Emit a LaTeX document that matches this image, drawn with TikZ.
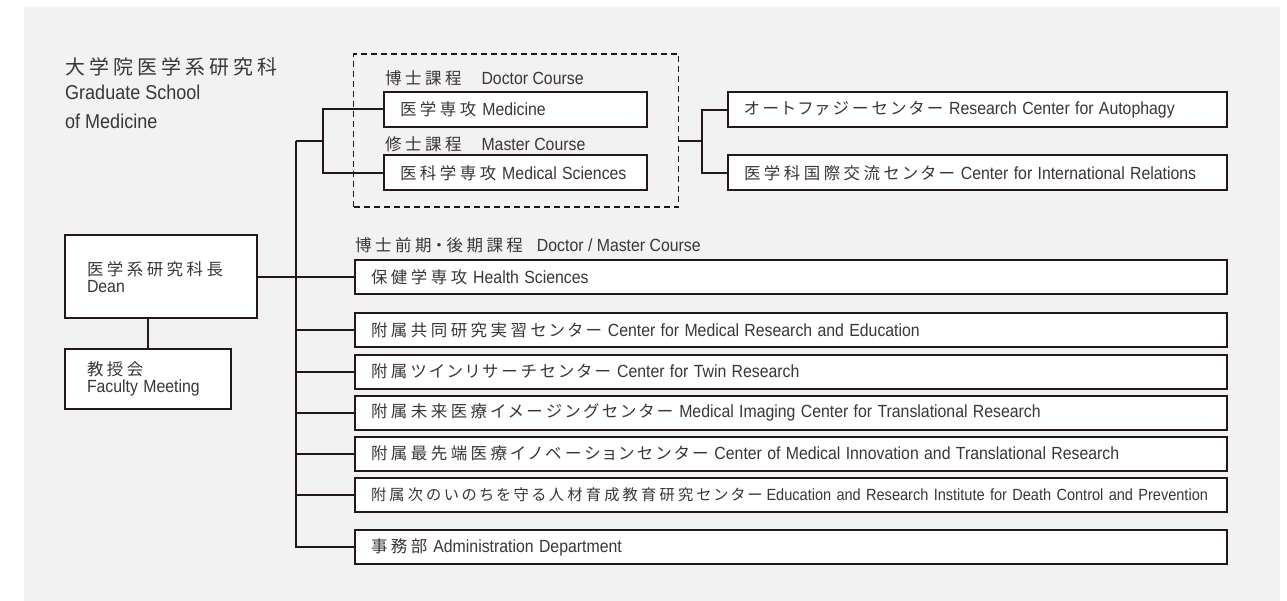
\documentclass[tikz,border=0pt]{standalone}
\usepackage{fontspec}
\setmainfont{Liberation Sans}
\newfontfamily\jpfont[LetterSpace=21,Scale=1.03,RawFeature=+palt]{Noto Sans CJK JP}
\newfontfamily\enfont[FakeStretch=0.9,Scale=1.1]{Liberation Sans}
\usepackage{tikz}
\usetikzlibrary{positioning}
\definecolor{bg}{HTML}{F2F2F2}
\definecolor{ink}{HTML}{231815}
\definecolor{txt}{HTML}{3A3635}
\newcommand\ja[1]{{\jpfont #1}}
\newcommand\en[1]{{\enfont #1}}
\newcommand\both[2]{\ja{#1}\hspace{6pt}\en{#2}}
\tikzset{
    conn/.style={draw=ink, line width=2pt},
    unit/.style={draw=ink, fill=white, line width=2pt, text=txt, minimum height=35pt, inner xsep=16pt, inner ysep=0pt, align=left, font=\fontsize{16}{20}\selectfont},
    wideunit/.style={unit, text width=840pt, minimum height=34pt, node distance=41pt, on grid},
    courseunit/.style={unit, text width=231pt, node distance=63.5pt, on grid},
    rightunit/.style={unit, text width=467pt, node distance=63pt, on grid},
    heading/.style={text=txt, inner sep=0pt, anchor=west, font=\fontsize{16}{20}\selectfont},
    groupbox/.style={draw=ink, line width=1.8pt, dash pattern=on 6pt off 4pt},
}

\begin{document}
\begin{tikzpicture}[x=1pt,y=-1pt]
\useasboundingbox (0,0) rectangle (1287,601);
\fill[bg] (24,7) rectangle (1280,601);

\node (title) [anchor=north west, inner sep=0pt, align=left, text=txt, font=\enfont\fontsize{18.2}{29}\selectfont] at (65,58)
    {{\jpfont\fontsize{19.3}{29}\selectfont 大学院医学系研究科}\\[-4pt]Graduate School\\of Medicine};

\node (doctoral) [groupbox, minimum width=325pt, minimum height=153pt] at (516,130.5) {};
\node (doclabel) [heading] at (385,78) {\ja{博士課程}\hspace{20pt}\en{Doctor Course}};
\node (medicine) [courseunit] at (515.5,109.5) {\both{医学専攻}{Medicine}};
\node (mastlabel) [heading] at (385,144) {\ja{修士課程}\hspace{20pt}\en{Master Course}};
\node (medsci) [courseunit, below of=medicine] {\both{医科学専攻}{Medical Sciences}};

\node (autophagy) [rightunit] at (977.5,110) {\both{オートファジーセンター}{Research Center for Autophagy}};
\node (intl) [rightunit, below of=autophagy] {\both{医学科国際交流センター}{Center for International Relations}};

\node (dean) [unit, text width=148pt, minimum height=83pt, inner xsep=22pt, font=\fontsize{16}{17}\selectfont] at (161,277)
    {\ja{医学系研究科長}\\\en{Dean}};
\node (faculty) [unit, text width=122pt, minimum height=59pt, inner xsep=22pt, font=\fontsize{16}{17}\selectfont, below right=29pt and 0pt of dean.south west]
    {\ja{教授会}\\\en{Faculty Meeting}};

\node (dmlabel) [heading] at (355,245) {\ja{博士前期・後期課程}\hspace{14pt}\en{Doctor / Master Course}};
\node (health) [wideunit] at (791,277) {\both{保健学専攻}{Health Sciences}};
\node (medres) [wideunit, below of=health, node distance=53.5pt] {\both{附属共同研究実習センター}{Center for Medical Research and Education}};
\node (twin) [wideunit, below of=medres] {\both{附属ツインリサーチセンター}{Center for Twin Research}};
\node (imaging) [wideunit, below of=twin] {\both{附属未来医療イメージングセンター}{Medical Imaging Center for Translational Research}};
\node (innov) [wideunit, below of=imaging] {\both{附属最先端医療イノベーションセンター}{Center of Medical Innovation and Translational Research}};
\node (death) [wideunit, below of=innov] {{\jpfont\fontsize{14.8}{20}\selectfont 附属次のいのちを守る人材育成教育研究センター}\hspace{4pt}{\enfont\fontsize{14.7}{20}\selectfont Education and Research Institute for Death Control and Prevention}};
\node (admin) [wideunit, below of=death, node distance=52.5pt] {\both{事務部}{Administration Department}};

\coordinate (fork) at (296,141);
\coordinate (gfork) at (323,141);
\coordinate (cfork) at (702,141);
\draw[conn] (dean.east) -- (health.west);
\draw[conn] (faculty.north -| 148,0) -- (dean.south -| 148,0);
\draw[conn] (fork) -- (fork |- admin.west) -- (admin.west);
\foreach \u in {medres,twin,imaging,innov,death}
    \draw[conn] (fork |- \u.west) -- (\u.west);
\draw[conn] (fork) -- (gfork);
\draw[conn] (medicine.west) -| (gfork) |- (medsci.west);
\draw[conn] (doctoral.east |- cfork) -- (cfork);
\draw[conn] (autophagy.west) -| (cfork) |- (intl.west);
\end{tikzpicture}
\end{document}
